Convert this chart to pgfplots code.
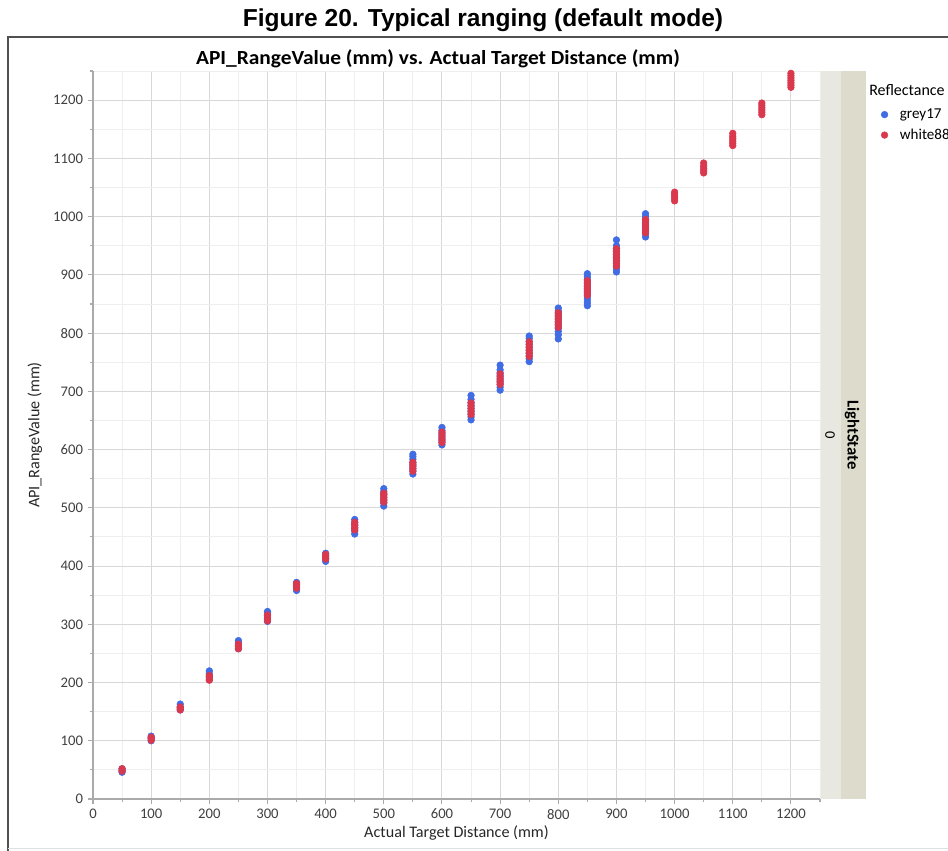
\documentclass[border=0pt]{standalone}
\usepackage{fontspec}
\setmainfont{Carlito}
\newfontfamily\titlefont{Liberation Sans}
\usepackage{pgfplots}
\pgfplotsset{compat=1.18}
\definecolor{gblue}{RGB}{64,108,228}
\definecolor{wred}{RGB}{218,56,76}
\definecolor{majgrid}{RGB}{216,216,216}
\definecolor{mingrid}{RGB}{238,238,238}
\definecolor{stripA}{RGB}{232,232,224}
\definecolor{stripB}{RGB}{220,219,204}
\definecolor{framec}{RGB}{80,80,80}
\definecolor{axc}{RGB}{170,170,170}
\begin{document}
\begin{tikzpicture}
\useasboundingbox (0,0) rectangle (711pt,-637.5pt);
\clip (0,0) rectangle (711pt,-637.5pt);
\begin{scope}[x=0.75pt,y=-0.75pt]
\fill[stripA] (820,71) rectangle (841,799);
\fill[stripB] (841,71) rectangle (866,799);
\draw[framec, line width=1.4pt] (8,851) -- (8,37) -- (950,37);
\draw[black!12, line width=0.6pt] (8,848) -- (950,848);
\node[font=\titlefont\bfseries\fontsize{18.4}{21}\selectfont] at (483,20) {Figure 20. Typical ranging (default mode)};
\node[font=\bfseries\fontsize{15}{18}\selectfont, xscale=1.07] at (438,59) {API\_RangeValue (mm) vs. Actual Target Distance (mm)};
\node[font=\fontsize{11}{13}\selectfont, rotate=-90] at (830,435) {0};
\node[font=\bfseries\fontsize{12.5}{14}\selectfont, rotate=-90] at (852,435) {LightState};
\node[font=\fontsize{12}{14}\selectfont, anchor=west, inner sep=0pt] at (869,90) {Reflectance};
\end{scope}
\begin{axis}[
 at={(69.75pt,-599.25pt)}, anchor=south west, scale only axis,
 width=545.25pt, height=546pt,
 xmin=0, xmax=1250, ymin=0, ymax=1250,
 xtick={0,100,...,1200}, ytick={0,100,...,1200},
 minor xtick={50,150,...,1250}, minor ytick={50,150,...,1250},
 grid=both,
 major grid style={majgrid, line width=0.7pt},
 minor grid style={mingrid, line width=0.7pt},
 axis x line*=bottom, axis y line*=left,
 axis line style={draw=axc, line width=0.9pt, -},
 tick align=outside, major tick length=4pt, minor tick length=2.5pt,
 every tick/.style={axc, line width=0.8pt},
 ticklabel style={font=\fontsize{11}{13}\selectfont, text=black!75},
 /pgf/number format/assume math mode=true,
 /pgf/number format/1000 sep={},
 xlabel={Actual Target Distance (mm)},
 ylabel={API\_RangeValue (mm)},
 every axis x label/.style={at={(0.5,-0.0467)}, anchor=center, font=\fontsize{12.1}{14}\selectfont, text=black!85},
 every axis y label/.style={at={(-0.0798,0.5)}, anchor=center, rotate=90, font=\fontsize{12.1}{14}\selectfont, text=black!85},
 legend style={at={(1.082,0.954)}, anchor=north west, draw=none, fill=none,
   font=\fontsize{11.3}{14}\selectfont, row sep=2.3pt, inner sep=1pt},
 legend cell align=left,
 clip=false,
]
\addplot[only marks, mark=*, mark size=2.5pt, color=gblue, mark options={draw=gblue, fill=gblue}] coordinates {
(50,46)(50,49)(50,52)
(100,100)(100,104)(100,108)
(150,153)(150,158)(150,163)
(200,205)(200,210)(200,215)(200,220)
(250,258)(250,263)(250,268)(250,272)
(300,305)(300,310)(300,315)(300,320)(300,322)
(350,358)(350,363)(350,368)(350,372)
(400,408)(400,413)(400,418)(400,422)
(450,455)(450,460)(450,465)(450,470)(450,475)(450,480)
(500,503)(500,508)(500,513)(500,518)(500,523)(500,528)(500,533)
(550,558)(550,563)(550,568)(550,573)(550,578)(550,583)(550,588)(550,592)
(600,608)(600,613)(600,618)(600,623)(600,628)(600,633)(600,638)
(650,651)(650,656)(650,661)(650,666)(650,671)(650,676)(650,681)(650,686)(650,693)
(700,702)(700,707)(700,712)(700,717)(700,722)(700,727)(700,732)(700,737)(700,745)
(750,751)(750,756)(750,761)(750,766)(750,771)(750,776)(750,781)(750,786)(750,791)(750,795)
(800,790)(800,797)(800,803)(800,808)(800,813)(800,818)(800,823)(800,828)(800,833)(800,838)(800,843)
(850,847)(850,852)(850,857)(850,862)(850,867)(850,872)(850,877)(850,882)(850,887)(850,892)(850,897)(850,902)
(900,905)(900,910)(900,915)(900,920)(900,925)(900,930)(900,935)(900,940)(900,945)(900,950)(900,960)
(950,965)(950,970)(950,975)(950,980)(950,985)(950,990)(950,995)(950,1000)(950,1005)
};
\addlegendentry{\hspace{7pt}grey17}
\addplot[only marks, mark=*, mark size=2.5pt, color=wred, mark options={draw=wred, fill=wred}] coordinates {
(50,48)(50,52)
(100,101)(100,104)(100,106)
(150,153)(150,156)(150,158)
(200,204)(200,208)(200,212)
(250,258)(250,262)(250,266)
(300,306)(300,311)(300,316)
(350,362)(350,366)(350,370)
(400,412)(400,416)(400,420)
(450,462)(450,466)(450,471)(450,475)
(500,510)(500,514)(500,518)(500,522)(500,525)
(550,563)(550,567)(550,571)(550,575)(550,578)
(600,612)(600,616)(600,620)(600,625)(600,630)
(650,660)(650,665)(650,670)(650,675)(650,680)
(700,712)(700,716)(700,720)(700,725)(700,730)
(750,760)(750,765)(750,770)(750,775)(750,780)(750,785)
(800,810)(800,815)(800,820)(800,825)(800,830)(800,835)
(850,865)(850,870)(850,875)(850,880)(850,885)(850,890)
(900,915)(900,920)(900,925)(900,930)(900,935)(900,940)(900,945)
(950,972)(950,977)(950,982)(950,987)(950,992)(950,995)
(1000,1027)(1000,1031)(1000,1035)(1000,1039)(1000,1042)
(1050,1075)(1050,1079)(1050,1083)(1050,1087)(1050,1092)
(1100,1122)(1100,1126)(1100,1130)(1100,1134)(1100,1138)(1100,1143)
(1150,1175)(1150,1179)(1150,1183)(1150,1187)(1150,1191)(1150,1195)
(1200,1222)(1200,1226)(1200,1230)(1200,1234)(1200,1238)(1200,1242)(1200,1246)
};
\addlegendentry{\hspace{7pt}white88}
\end{axis}
\end{tikzpicture}
\end{document}
